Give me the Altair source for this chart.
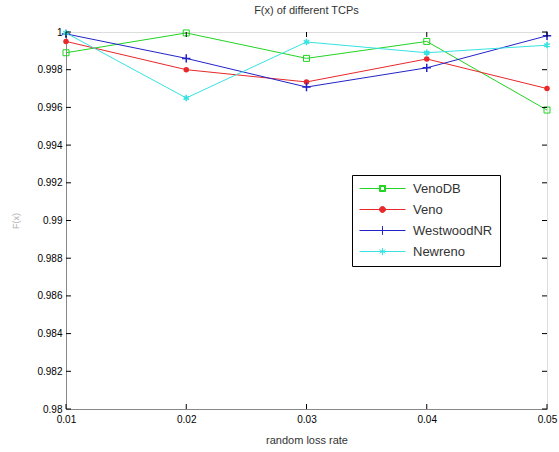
import altair as alt
import pandas as pd

loss_rate = [0.01, 0.02, 0.03, 0.04, 0.05]
venodb = [0.9989, 0.99995, 0.9986, 0.9995, 0.99586]
veno = [0.9995, 0.9980, 0.99735, 0.99857, 0.9970]
westwood = [0.9999, 0.9986, 0.99708, 0.9981, 0.9998]
newreno = [0.99995, 0.9965, 0.99947, 0.9989, 0.9993]
series = ["VenoDB", "Veno", "WestwoodNR", "Newreno"]
colors = ["#22d422", "#e8282a", "#2323c8", "#38e2e2"]
y_ticks = [0.98, 0.982, 0.984, 0.986, 0.988, 0.99, 0.992, 0.994, 0.996, 0.998, 1.0]
x_ticks = [0.01, 0.02, 0.03, 0.04, 0.05]

W, H = 481, 377
FONT = "Liberation Sans"

rows = []
for name, vals in zip(series, [venodb, veno, westwood, newreno]):
    for r, v in zip(loss_rate, vals):
        rows.append({"rate": r, "F": v, "tcp": name})
df = pd.DataFrame(rows)

xs = alt.Scale(domain=[0.01, 0.05], nice=False, zero=False)
ys = alt.Scale(domain=[0.98, 1.0], nice=False, zero=False)
cs = alt.Scale(domain=series, range=colors)

xaxis = alt.Axis(values=x_ticks, format=".2f", ticks=False, grid=False,
                 title="random loss rate", labelPadding=5, titlePadding=10,
                 labelFlush=False, titleFontWeight="normal", titleFontSize=11,
                 titleColor="#333333")
yaxis = alt.Axis(values=y_ticks, format="~g", ticks=False, grid=False,
                 title="F(x)", labelPadding=4, titlePadding=16,
                 titleColor="#b0b0b0", titleFontSize=9, titleFontWeight="normal")
X = alt.X("rate:Q", scale=xs, axis=xaxis)
Y = alt.Y("F:Q", scale=ys, axis=yaxis)
C = alt.Color("tcp:N", scale=cs)

base = alt.Chart(df)

# legend glyphs: unit = 4px, line from -1.5 to 10 units, marker at 4.25
legend_paths = [
    "M-1.5,0H3.5M5,0H10M3.5,-0.75H5V0.75H3.5ZM3.75,-0.5V0.5H4.75V-0.5Z",
    "M-1.5,0H10M3.5,0A0.75,0.75 0 1,0 5,0A0.75,0.75 0 1,0 3.5,0M3.9,0A0.35,0.35 0 1,0 4.6,0A0.35,0.35 0 1,0 3.9,0",
    "M-1.5,0H10M4.25,-1.1V1.1",
    "M-1.5,0H10M4.25,-0.9V0.9M3.5,-0.45L5,0.45M3.5,0.45L5,-0.45",
]
leg = alt.Legend(title=None, orient="none", legendX=286, legendY=143,
                 strokeColor="black", fillColor="white", padding=7,
                 symbolSize=64, symbolStrokeWidth=1, symbolOpacity=1,
                 labelFont=FONT, labelFontSize=13, labelColor="#333333",
                 labelOffset=41, rowPadding=7, symbolOffset=0)
legend_layer = base.mark_point(filled=False, opacity=0).encode(
    x=X, y=Y,
    color=alt.Color("tcp:N", scale=cs, legend=leg),
    shape=alt.Shape("tcp:N", scale=alt.Scale(domain=series, range=legend_paths), legend=leg),
)

lines = base.mark_line(strokeWidth=1).encode(x=X, y=Y, color=C, detail="tcp:N")

marker_defs = {
    "VenoDB": dict(shape="square", size=36, filled=False, strokeWidth=1),
    "Veno": dict(shape="circle", size=30, filled=True),
    "WestwoodNR": dict(shape="M-1,0H1M0,-1V1", size=70, filled=False, strokeWidth=1.5),
    "Newreno": dict(shape="M0,-1V1M-0.87,-0.5L0.87,0.5M-0.87,0.5L0.87,-0.5", size=40,
                    filled=False, strokeWidth=1.6),
}
point_layers = []
for name in series:
    point_layers.append(
        base.transform_filter(alt.datum.tcp == name)
        .mark_point(opacity=1, **marker_defs[name])
        .encode(x=X, y=Y, color=C)
    )

tick_y = pd.DataFrame({"F": y_ticks})
tick_x = pd.DataFrame({"rate": x_ticks})
TL = 5
yl = alt.Chart(tick_y).mark_rule(color="black").encode(
    y=Y, x=alt.value(0), x2=alt.value(TL))
yr = alt.Chart(tick_y).mark_rule(color="black").encode(
    y=Y, x=alt.value(W - TL), x2=alt.value(W))
xb = alt.Chart(tick_x).mark_rule(color="black").encode(
    x=X, y=alt.value(H - TL), y2=alt.value(H))
xt = alt.Chart(tick_x).mark_rule(color="black").encode(
    x=X, y=alt.value(0), y2=alt.value(TL))

chart = alt.layer(legend_layer, lines, *point_layers, yl, yr, xb, xt).properties(
    width=W, height=H,
    title=alt.Title("F(x) of different TCPs", fontSize=11, fontWeight="normal",
                    font=FONT, color="#333333", offset=11),
    autosize=alt.AutoSizeParams(type="none"),
    padding={"left": 66, "top": 32, "right": 12, "bottom": 43},
).configure_view(stroke="black", strokeWidth=1.2).configure_axis(
    domainColor="black", domainWidth=1.2, labelFont=FONT, labelFontSize=11,
    labelColor="#333333", titleFont=FONT
).configure(background="white")

chart.save("out.html", embed_options={"renderer": "svg", "actions": False})
